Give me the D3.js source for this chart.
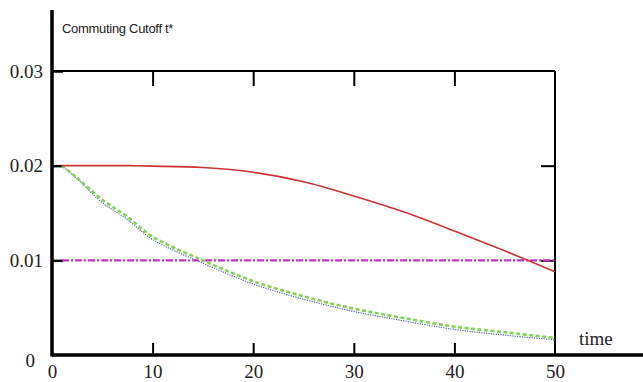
<!DOCTYPE html>
<html>
<head>
<meta charset="utf-8">
<script src="https://cdn.jsdelivr.net/npm/d3@7"></script>
<style>
  body { margin: 0; background: #fff; }
</style>
</head>
<body>
<div id="chart"></div>
<script>
// values
const times = [1, 2.5, 5, 7.5, 10, 15, 20, 25, 30, 35, 40, 45, 50];
const cutoffRed = [0.0200, 0.0200, 0.0200, 0.0200, 0.01995, 0.0198, 0.0193, 0.0183, 0.0168, 0.0151, 0.0131, 0.0110, 0.0088];
const cutoffGreen = [0.0200, 0.0187, 0.0164, 0.0146, 0.0125, 0.0100, 0.0078, 0.0062, 0.0049, 0.0039, 0.0030, 0.0024, 0.0018];
const cutoffBlue = [0.0200, 0.0186, 0.0161, 0.0143, 0.0122, 0.0097, 0.0075, 0.0059, 0.0046, 0.0036, 0.0027, 0.0021, 0.0016];
const cutoffMagenta = [0.01, 0.01, 0.01, 0.01, 0.01, 0.01, 0.01, 0.01, 0.01, 0.01, 0.01, 0.01, 0.01];
const xTicks = [0, 10, 20, 30, 40, 50];
const yTicks = [0, 0.01, 0.02, 0.03];

const W = 643, H = 382;
const plotLeft = 52, plotRight = 555, plotTop = 71, plotBottom = 355;
const serif = '"Liberation Serif", "Times New Roman", Times, serif';

const svg = d3.select('#chart')
    .append('svg')
    .attr('width', W)
    .attr('height', H);

const x = d3.scaleLinear().domain([0, 50]).range([plotLeft, plotRight]);
const y = d3.scaleLinear().domain([0, 0.03]).range([plotBottom, plotTop]);

// bottom axis (ticks pointing up)
const gx = svg.append('g')
    .attr('transform', `translate(0,${plotBottom})`)
    .call(d3.axisBottom(x).tickValues(xTicks).tickSizeInner(-12).tickSizeOuter(0).tickPadding(10).tickFormat(d3.format('d')));
gx.select('.domain').remove();
gx.selectAll('.tick line').attr('stroke', '#000').attr('stroke-width', 2)
    .filter(d => d === 0 || d === 50).remove();

// left axis (ticks pointing right)
const gy = svg.append('g')
    .attr('transform', `translate(${plotLeft},0)`)
    .call(d3.axisLeft(y).tickValues(yTicks).tickSizeInner(-11).tickSizeOuter(0).tickPadding(9)
        .tickFormat(d => d === 0 ? '0' : d3.format('.2f')(d)));
gy.select('.domain').remove();
gy.selectAll('.tick line').attr('stroke', '#000').attr('stroke-width', 2.5)
    .filter(d => d === 0).remove();
gy.selectAll('.tick text').filter(d => d === 0).attr('x', -17).attr('dy', '0.6em');

svg.selectAll('.tick text')
    .style('font-family', serif)
    .style('font-size', '19px')
    .attr('fill', '#222');

// top and right frame ticks
const gt = svg.append('g')
    .attr('transform', `translate(0,${plotTop})`)
    .call(d3.axisTop(x).tickValues([10, 20, 30, 40]).tickSizeInner(-15).tickSizeOuter(0).tickFormat(''));
gt.select('.domain').remove();
gt.selectAll('.tick line').attr('stroke', '#000').attr('stroke-width', 2);

const gr = svg.append('g')
    .attr('transform', `translate(${plotRight},0)`)
    .call(d3.axisRight(y).tickValues([0.01, 0.02]).tickSizeInner(-14).tickSizeOuter(0).tickFormat(''));
gr.select('.domain').remove();
gr.selectAll('.tick line').attr('stroke', '#000').attr('stroke-width', 2);

// frame lines
svg.append('line').attr('x1', plotLeft).attr('x2', plotRight).attr('y1', plotTop).attr('y2', plotTop)
    .attr('stroke', '#000').attr('stroke-width', 2);
svg.append('line').attr('x1', plotRight).attr('x2', plotRight).attr('y1', plotTop).attr('y2', plotBottom)
    .attr('stroke', '#000').attr('stroke-width', 2);
svg.append('line').attr('x1', plotLeft).attr('x2', plotLeft).attr('y1', 10).attr('y2', plotBottom + 1.5)
    .attr('stroke', '#000').attr('stroke-width', 3.5);
svg.append('line').attr('x1', plotLeft).attr('x2', W).attr('y1', plotBottom).attr('y2', plotBottom)
    .attr('stroke', '#000').attr('stroke-width', 3.5);

// curves
const series = [
    { values: cutoffMagenta, color: '#c233c2', width: 2.2, dash: '7,2,2,2' },
    { values: cutoffBlue, color: '#5563a8', width: 1.2, dash: '1.2,1.2' },
    { values: cutoffGreen, color: '#82d452', width: 2.6, dash: '4,2.5' },
    { values: cutoffRed, color: '#cc3333', width: 1.6, dash: null }
];

const line = d3.line()
    .x(d => x(d[0]))
    .y(d => y(d[1]))
    .curve(d3.curveCatmullRom.alpha(0.5));

svg.append('g')
    .selectAll('path')
    .data(series)
    .enter()
    .append('path')
    .attr('d', s => line(times.map((t, i) => [t, s.values[i]])))
    .attr('fill', 'none')
    .attr('stroke', s => s.color)
    .attr('stroke-width', s => s.width)
    .attr('stroke-dasharray', s => s.dash);

// labels
svg.append('text')
    .attr('x', 62)
    .attr('y', 33)
    .style('font-family', '"Liberation Sans", Arial, sans-serif')
    .style('font-size', '13px')
    .style('letter-spacing', '-0.3px')
    .attr('fill', '#222')
    .text('Commuting Cutoff t*');

svg.append('text')
    .attr('x', 579)
    .attr('y', 345)
    .style('font-family', serif)
    .style('font-size', '19px')
    .attr('fill', '#222')
    .text('time');
</script>
</body>
</html>
